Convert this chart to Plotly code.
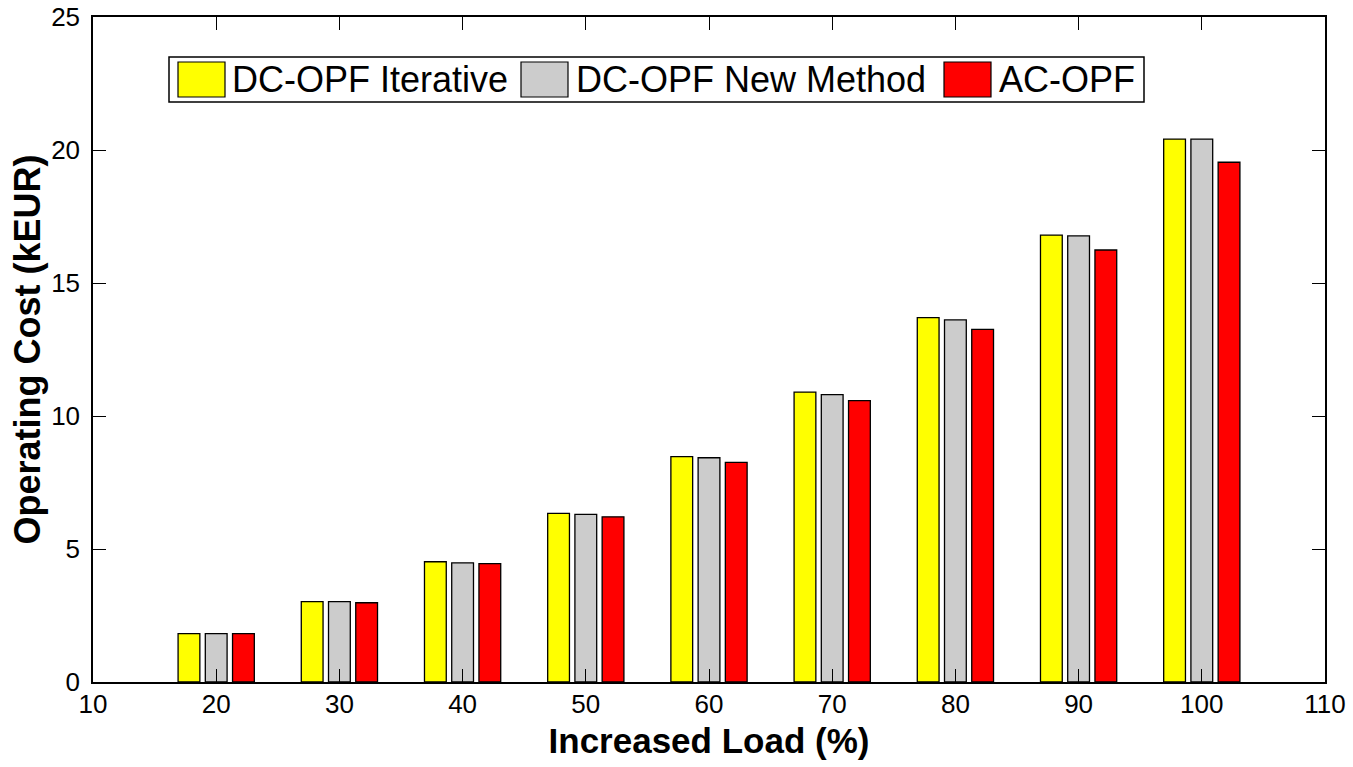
import plotly.graph_objects as go

loads = [20, 30, 40, 50, 60, 70, 80, 90, 100]
dc_iterative = [1.82, 3.02, 4.52, 6.34, 8.47, 10.90, 13.70, 16.80, 20.41]
dc_new_method = [1.82, 3.02, 4.48, 6.30, 8.43, 10.80, 13.61, 16.77, 20.41]
ac_opf = [1.82, 2.98, 4.45, 6.21, 8.26, 10.58, 13.26, 16.24, 19.54]

series_names = ["DC-OPF Iterative", "DC-OPF New Method", "AC-OPF"]
series_colors = ["#FFFF00", "#CCCCCC", "#FF0000"]
series_values = [dc_iterative, dc_new_method, ac_opf]

x_ticks = [10, 20, 30, 40, 50, 60, 70, 80, 90, 100, 110]
y_ticks = [0, 5, 10, 15, 20, 25]

FONT = "Liberation Sans, Arial, Helvetica, sans-serif"

fig = go.Figure()
for name, color, vals in zip(series_names, series_colors, series_values):
    fig.add_trace(go.Bar(
        x=loads, y=vals, name=name,
        marker=dict(color=color, line=dict(color="#000000", width=1.3)),
        showlegend=False,
    ))

W, H = 1353, 767
L, R, T, B = 93, 28, 17, 85

fig.update_layout(
    width=W, height=H,
    margin=dict(l=L, r=R, t=T, b=B, autoexpand=False),
    paper_bgcolor="white", plot_bgcolor="white",
    barmode="group", bargap=0.337, bargroupgap=0.2,
    font=dict(family=FONT, color="black", size=26),
    xaxis=dict(
        range=[10, 110], tickvals=x_ticks, ticktext=[str(v) for v in x_ticks],
        ticks="inside", ticklen=13, tickwidth=1.3, tickcolor="black",
        showline=True, linecolor="black", linewidth=1.5, mirror="allticks",
        showgrid=False, zeroline=False,
        tickfont=dict(size=26, family=FONT),
        ticklabelstandoff=-2,
        title=dict(text="<b>Increased Load (%)</b>", font=dict(size=35, family=FONT), standoff=11),
        automargin=False,
    ),
    yaxis=dict(
        range=[0, 25], tickvals=y_ticks, ticktext=[str(v) for v in y_ticks],
        ticks="inside", ticklen=13, tickwidth=1.3, tickcolor="black",
        showline=True, linecolor="black", linewidth=1.5, mirror="allticks",
        showgrid=False, zeroline=False,
        tickfont=dict(size=26, family=FONT),
        ticklabelstandoff=6,
        title=dict(text="<b>Operating Cost (kEUR)</b>", font=dict(size=36, family=FONT), standoff=0),
        automargin=False,
    ),
)

# custom legend (MATLAB style box)
pw, ph = W - L - R, H - T - B
def px(xp):
    return (xp - L) / pw
def py(yp):
    return (H - B - yp) / ph

fig.add_shape(type="rect", xref="paper", yref="paper",
              x0=px(169), x1=px(1144), y0=py(102), y1=py(57),
              line=dict(color="black", width=1.5), fillcolor="white", layer="above")
sw_x = [178, 521, 944]
tx_x = [230, 574, 997]
for name, color, sx, tx in zip(series_names, series_colors, sw_x, tx_x):
    fig.add_shape(type="rect", xref="paper", yref="paper",
                  x0=px(sx), x1=px(sx + 47), y0=py(97), y1=py(62),
                  line=dict(color="black", width=1.2), fillcolor=color, layer="above")
    fig.add_annotation(xref="paper", yref="paper", x=px(tx), y=py(80),
                       text=name, showarrow=False, xanchor="left", yanchor="middle",
                       font=dict(size=36, family=FONT, color="black"))

fig.write_html("out.html")
